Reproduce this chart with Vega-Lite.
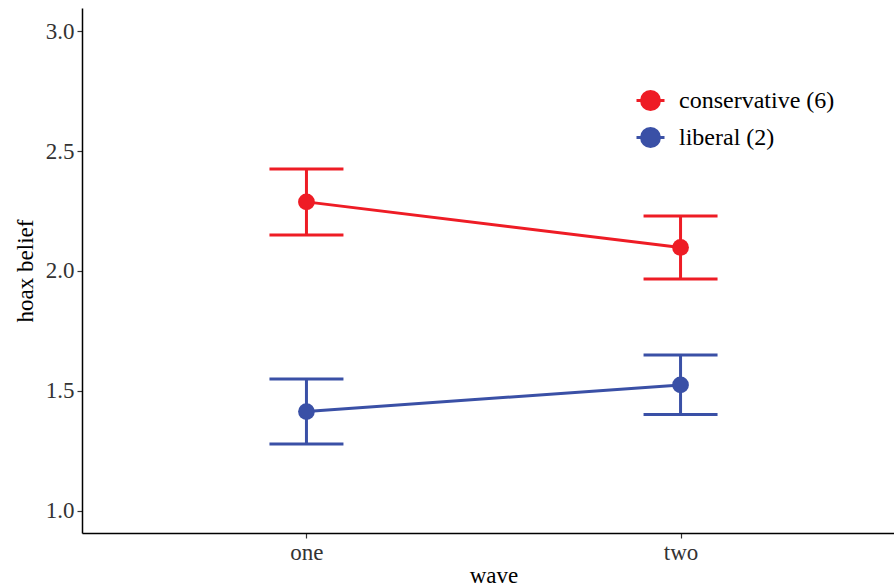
{
  "$schema": "https://vega.github.io/schema/vega-lite/v6.json",
  "autosize": {"type": "none"},
  "width": 823,
  "height": 525,
  "padding": {"left": 82, "top": 8, "right": -11, "bottom": 54},
  "background": "white",
  "config": {
    "font": "Liberation Serif",
    "view": {"stroke": null},
    "axis": {
      "domainColor": "black", "domainWidth": 1.5, "tickColor": "#333333", "tickWidth": 1.2, "tickSize": 5,
      "labelFont": "Liberation Serif", "labelFontSize": 23, "labelColor": "#333333",
      "titleFont": "Liberation Serif", "titleFontSize": 23, "titleFontWeight": "normal", "titleColor": "black",
      "grid": false
    },
    "legend": {"labelFont": "Liberation Serif", "labelFontSize": 24, "labelColor": "black"}
  },
  "data": {"values": [
    {"wave": "one", "ideology": "conservative (6)", "mean": 2.288, "lo": 2.15, "hi": 2.425},
    {"wave": "two", "ideology": "conservative (6)", "mean": 2.098, "lo": 1.967, "hi": 2.229},
    {"wave": "one", "ideology": "liberal (2)", "mean": 1.414, "lo": 1.279, "hi": 1.55},
    {"wave": "two", "ideology": "liberal (2)", "mean": 1.525, "lo": 1.402, "hi": 1.65}
  ]},
  "encoding": {
    "x": {"field": "wave", "type": "nominal", "sort": ["one", "two"],
      "scale": {"type": "point", "padding": 0.6},
      "axis": {"labelAngle": 0, "title": "wave", "labelPadding": 3, "titlePadding": 0}},
    "color": {"field": "ideology", "type": "nominal",
      "scale": {"domain": ["conservative (6)", "liberal (2)"], "range": ["#ee1c25", "#3a50a6"]},
      "legend": {"title": null, "orient": "none", "legendX": 553, "legendY": 77,
        "symbolType": "M-1,0H1M-0.64,0A0.64,0.64,0,1,1,0.64,0A0.64,0.64,0,1,1,-0.64,0Z",
        "symbolSize": 784, "symbolStrokeWidth": 3, "symbolOpacity": 1, "labelOffset": 13, "rowPadding": 6}}
  },
  "layer": [
    {"mark": {"type": "line", "strokeWidth": 3},
     "encoding": {"y": {"field": "mean", "type": "quantitative",
        "scale": {"domain": [0.908, 3.096], "nice": false, "zero": false},
        "axis": {"values": [1, 1.5, 2, 2.5, 3], "format": ".1f", "title": "hoax belief", "labelPadding": 3, "titlePadding": 8}}}},
    {"mark": {"type": "rule", "strokeWidth": 3},
     "encoding": {"y": {"field": "lo", "type": "quantitative"}, "y2": {"field": "hi"}}},
    {"mark": {"type": "tick", "thickness": 3, "size": 74, "orient": "horizontal", "opacity": 1},
     "encoding": {"y": {"field": "lo", "type": "quantitative"}}},
    {"mark": {"type": "tick", "thickness": 3, "size": 74, "orient": "horizontal", "opacity": 1},
     "encoding": {"y": {"field": "hi", "type": "quantitative"}}},
    {"mark": {"type": "point", "filled": true, "opacity": 1, "size": 280},
     "encoding": {"y": {"field": "mean", "type": "quantitative"}}}
  ]
}
